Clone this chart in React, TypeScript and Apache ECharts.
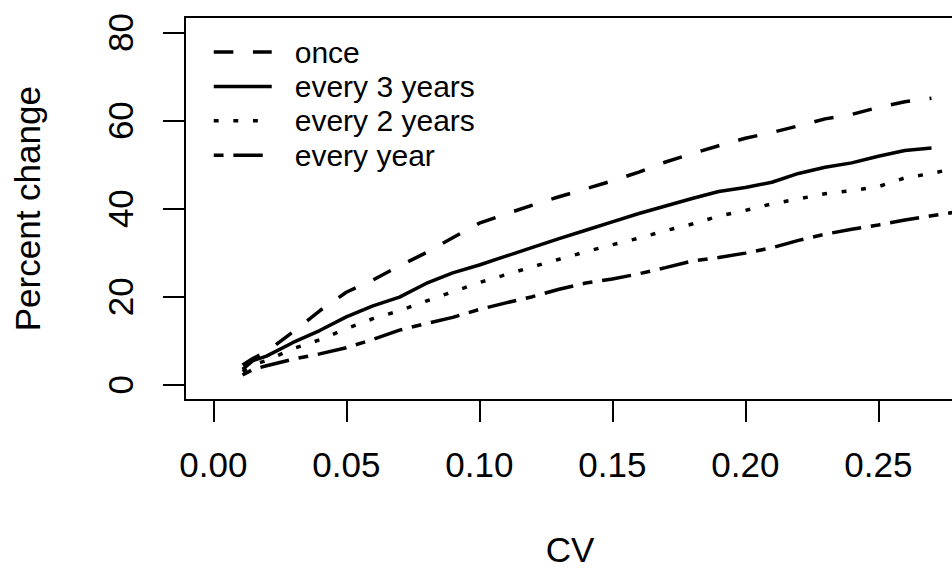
import React, { useEffect, useRef } from "react";
import * as echarts from "echarts";

const cvValues = [
  0.011, 0.015, 0.02, 0.03, 0.04, 0.05, 0.06, 0.07, 0.08, 0.09, 0.1, 0.11,
  0.12, 0.13, 0.14, 0.15, 0.16, 0.17, 0.18, 0.19, 0.2, 0.21, 0.22, 0.23,
  0.24, 0.25, 0.26, 0.27, 0.28, 0.29,
];
const onceValues = [
  4.5, 6.0, 7.5, 12.0, 16.8, 21.0, 23.8, 27.0, 30.0, 33.4, 36.7, 38.8, 40.8,
  42.7, 44.5, 46.3, 48.3, 50.6, 52.5, 54.3, 56.0, 57.3, 58.8, 60.4, 61.4,
  63.0, 64.3, 65.1,
];
const every3Values = [
  3.5, 5.5, 6.5, 9.6, 12.3, 15.4, 17.9, 19.9, 23.0, 25.4, 27.2, 29.2, 31.2,
  33.2, 35.1, 37.0, 38.9, 40.6, 42.3, 43.9, 44.8, 46.0, 48.0, 49.4, 50.4,
  51.9, 53.2, 53.8,
];
const every2Values = [
  3.0, 4.5, 5.5, 8.2, 10.2, 12.7, 15.0, 16.8, 19.0, 21.1, 23.2, 25.0, 26.8,
  28.5, 30.2, 31.8, 33.3, 35.0, 36.5, 38.3, 39.6, 41.1, 42.2, 43.4, 44.1,
  45.0, 47.0, 48.0, 49.3, 50.5,
];
const everyYearValues = [
  2.2, 3.5, 4.3, 5.8, 7.0, 8.4, 10.3, 12.4, 13.9, 15.3, 17.1, 18.6, 20.0,
  21.7, 23.1, 24.0, 25.2, 26.6, 28.1, 28.9, 29.9, 31.1, 32.8, 34.2, 35.3,
  36.3, 37.4, 38.4, 39.3, 40.2,
];
const seriesNames = ["once", "every 3 years", "every 2 years", "every year"];
const xAxisTitle = "CV";
const yAxisTitle = "Percent change";

const FONT = "'Liberation Sans', Arial, sans-serif";

export default function App() {
  const ref = useRef<HTMLDivElement>(null);
  useEffect(() => {
    if (!ref.current) return;
    const chart = echarts.init(ref.current, null, { renderer: "svg" });
    const allValues = [onceValues, every3Values, every2Values, everyYearValues];
    const dashes: any[] = [[19.6, 19.6], "solid", [4.9, 14.7], [9.8, 9.8, 29.4, 9.8]];
    const series = allValues.map((vals, k) => ({
      name: seriesNames[k],
      type: "line",
      xAxisIndex: 0,
      yAxisIndex: 0,
      data: vals.map((v, i) => [cvValues[i], v]),
      showSymbol: false,
      symbol: "none",
      smooth: false,
      clip: true,
      lineStyle: { color: "#000", width: 3.5, type: dashes[k], cap: "butt" },
      itemStyle: { color: "#000" },
    }));
    const X_MIN = 0;
    const X_MAX = 0.3;
    const Y_MIN = 0;
    const Y_MAX = 80;
    const hidden = { show: false };
    chart.setOption({
      animation: false,
      backgroundColor: "#fff",
      textStyle: { fontFamily: FONT, color: "#000" },
      grid: [
        // data area
        { left: 213.3, right: -59.3, top: 32.6, bottom: 183.3, outerBoundsMode: "none" },
        // x-axis ticks at the frame bottom
        { left: 213.3, right: -59.3, top: 32.6, bottom: 168, outerBoundsMode: "none" },
        // y-axis ticks at the frame left
        { left: 185, right: -59.3, top: 32.6, bottom: 183.3, outerBoundsMode: "none" },
      ],
      xAxis: [
        { type: "value", gridIndex: 0, min: X_MIN, max: X_MAX, ...hidden },
        {
          type: "value",
          gridIndex: 1,
          min: X_MIN,
          max: X_MAX,
          interval: 0.05,
          splitLine: { show: false },
          axisLine: { show: false },
          axisTick: { show: true, length: 22, lineStyle: { color: "#000", width: 2 } },
          axisLabel: {
            color: "#000",
            fontSize: 35,
            fontFamily: FONT,
            margin: 47,
            showMaxLabel: false,
            formatter: (v: number) => v.toFixed(2),
          },
          name: xAxisTitle,
          nameLocation: "middle",
          nameGap: 134.5,
          nameTextStyle: {
            fontSize: 35,
            lineHeight: 30,
            color: "#000",
            fontFamily: FONT,
            padding: [0, 84.5, 0, 0],
          },
        },
        { type: "value", gridIndex: 2, min: X_MIN, max: X_MAX, ...hidden },
      ],
      yAxis: [
        { type: "value", gridIndex: 0, min: Y_MIN, max: Y_MAX, ...hidden },
        { type: "value", gridIndex: 1, min: Y_MIN, max: Y_MAX, ...hidden },
        {
          type: "value",
          gridIndex: 2,
          min: Y_MIN,
          max: Y_MAX,
          interval: 20,
          splitLine: { show: false },
          axisLine: { show: false },
          axisTick: { show: true, length: 22, lineStyle: { color: "#000", width: 2 } },
          axisLabel: {
            color: "#000",
            fontSize: 35,
            fontFamily: FONT,
            rotate: 90,
            margin: 47,
          },
          name: yAxisTitle,
          nameLocation: "middle",
          nameGap: 140,
          nameTextStyle: { fontSize: 35, color: "#000", fontFamily: FONT },
        },
      ],
      legend: {
        data: seriesNames,
        orient: "vertical",
        left: 212,
        top: 37,
        padding: 0,
        itemGap: 4.4,
        itemWidth: 58,
        itemHeight: 14,
        itemStyle: { opacity: 0 },
        lineStyle: { width: 3.5 },
        textStyle: { fontSize: 30, color: "#000", fontFamily: FONT, padding: [0, 0, 0, 18] },
      },
      graphic: [
        {
          type: "rect",
          shape: { x: 185, y: 17, width: 800, height: 383 },
          style: { fill: "none", stroke: "#000", lineWidth: 2 },
          silent: true,
        },
      ],
      series,
    });
    return () => chart.dispose();
  }, []);
  return (
    <div
      ref={ref}
      style={{ position: "fixed", left: 0, top: 0, width: 952, height: 568, background: "#fff" }}
    />
  );
}
